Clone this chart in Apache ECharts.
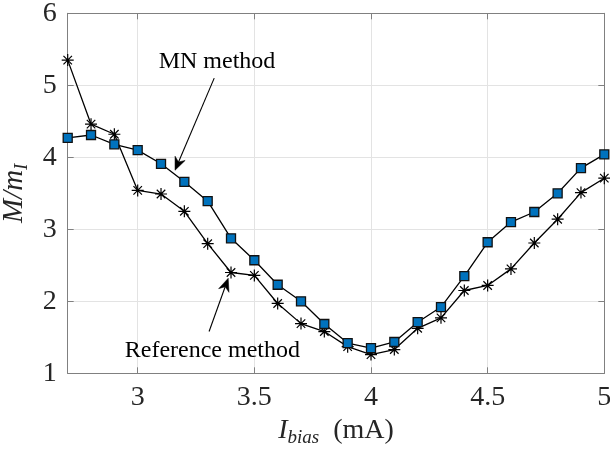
<!DOCTYPE html>
<html>
<head>
<meta charset="utf-8">
<script src="https://cdn.jsdelivr.net/npm/echarts@6/dist/echarts.min.js"></script>
<style>
  html, body { margin: 0; padding: 0; background: #fff; }
  #chart { width: 610px; height: 451px; }
</style>
</head>
<body>
<div id="chart"></div>
<script>
// Bias current (mA)
const biasCurrent = [2.7, 2.8, 2.9, 3.0, 3.1, 3.2, 3.3, 3.4, 3.5, 3.6, 3.7, 3.8,
                     3.9, 4.0, 4.1, 4.2, 4.3, 4.4, 4.5, 4.6, 4.7, 4.8, 4.9, 5.0];
// M/m_I estimated by the MN method
const mnMethod = [4.27, 4.31, 4.18, 4.10, 3.91, 3.66, 3.39, 2.875, 2.57, 2.23, 2.00, 1.685,
                  1.42, 1.35, 1.435, 1.71, 1.92, 2.35, 2.82, 3.10, 3.24, 3.50, 3.85, 4.04];
// M/m_I from the reference method
const referenceMethod = [5.35, 4.46, 4.32, 3.54, 3.49, 3.25, 2.80, 2.40, 2.36, 1.97, 1.69, 1.58,
                         1.37, 1.26, 1.33, 1.625, 1.77, 2.15, 2.22, 2.45, 2.81, 3.14, 3.51, 3.71];
const xTicks = [3, 3.5, 4, 4.5, 5];
const yTicks = [1, 2, 3, 4, 5, 6];

// Annotation anchors in data units: text centre, arrow tail, arrow tip
const mnNote = { text: 'MN method', at: [3.34, 5.33], from: [3.328, 5.10], to: [3.16, 3.82] };
const refNote = { text: 'Reference method', at: [3.32, 1.32], from: [3.306, 1.58], to: [3.388, 2.32] };

const SERIF = '"Liberation Serif", "Times New Roman", serif';
const AXIS_GREY = '#808080';
const TEXT_DARK = '#262626';
const ASTERISK = 'path://M0,-10L0,10M-10,0L10,0M-7.07,-7.07L7.07,7.07M-7.07,7.07L7.07,-7.07';

const pairs = (xs, ys) => xs.map((x, i) => [x, ys[i]]);

const chart = echarts.init(document.getElementById('chart'), null, { renderer: 'canvas' });

const tickStyle = { show: true, inside: true, length: 6, lineStyle: { color: AXIS_GREY } };
const baseX = {
  type: 'value', min: 2.7, max: 5,
  axisLine: { show: true, lineStyle: { color: AXIS_GREY, width: 1 } }
};
const baseY = {
  type: 'value', min: yTicks[0], max: yTicks[yTicks.length - 1], interval: 1,
  axisLine: { show: true, lineStyle: { color: AXIS_GREY, width: 1 } },
  axisTick: tickStyle
};

chart.setOption({
  animation: false,
  backgroundColor: '#ffffff',
  grid: {
    left: 67.7, right: 5.7, top: 13.3, bottom: 77.7,
    containLabel: false,
    outerBoundsMode: 'none'
  },
  xAxis: [
    Object.assign({}, baseX, {
      position: 'bottom',
      axisTick: Object.assign({ customValues: xTicks }, tickStyle),
      axisLabel: { customValues: xTicks, color: TEXT_DARK, fontFamily: SERIF, fontSize: 28, margin: 10 },
      splitLine: { show: true, lineStyle: { color: '#e3e3e3', width: 1 } },
      name: '{i|I}{s|bias}{n|  (mA)}',
      nameLocation: 'middle',
      nameGap: 33,
      nameTextStyle: {
        color: TEXT_DARK,
        rich: {
          i: { fontFamily: SERIF, fontStyle: 'italic', fontSize: 28, lineHeight: 34, color: TEXT_DARK },
          s: { fontFamily: SERIF, fontStyle: 'italic', fontSize: 19, lineHeight: 19, verticalAlign: 'bottom', color: TEXT_DARK },
          n: { fontFamily: SERIF, fontSize: 28, lineHeight: 34, color: TEXT_DARK }
        }
      }
    }),
    Object.assign({}, baseX, {
      position: 'top',
      axisTick: Object.assign({ customValues: xTicks }, tickStyle),
      axisLabel: { show: false },
      splitLine: { show: false }
    })
  ],
  yAxis: [
    Object.assign({}, baseY, {
      position: 'left',
      axisLabel: { color: TEXT_DARK, fontFamily: SERIF, fontSize: 28, margin: 11 },
      splitLine: { show: true, lineStyle: { color: '#e3e3e3', width: 1 } },
      name: '{i|M/m}{s|I}',
      nameLocation: 'middle',
      nameRotate: 90,
      nameGap: 33,
      nameTextStyle: {
        color: TEXT_DARK,
        rich: {
          i: { fontFamily: SERIF, fontStyle: 'italic', fontSize: 29, lineHeight: 34, color: TEXT_DARK },
          s: { fontFamily: SERIF, fontStyle: 'italic', fontSize: 19, lineHeight: 19, verticalAlign: 'bottom', color: TEXT_DARK }
        }
      }
    }),
    Object.assign({}, baseY, {
      position: 'right',
      axisLabel: { show: false },
      splitLine: { show: false }
    })
  ],
  series: [
    {
      name: 'MN method',
      type: 'line',
      data: pairs(biasCurrent, mnMethod),
      xAxisIndex: 0, yAxisIndex: 0,
      symbol: 'rect', symbolSize: 9,
      showAllSymbol: true,
      lineStyle: { color: '#000', width: 1.3 },
      itemStyle: { color: '#0072BD', borderColor: '#111', borderWidth: 1.3 },
      z: 3
    },
    {
      name: 'Reference method',
      type: 'line',
      data: pairs(biasCurrent, referenceMethod),
      xAxisIndex: 0, yAxisIndex: 0,
      symbol: ASTERISK, symbolSize: 12,
      showAllSymbol: true,
      lineStyle: { color: '#000', width: 1.3 },
      itemStyle: { color: '#000', borderColor: '#000', borderWidth: 1.2 },
      z: 2
    }
  ]
});

// Captions and arrows, positioned from data-space anchors
function noteText(note) {
  const p = chart.convertToPixel({ gridIndex: 0 }, note.at);
  return {
    type: 'text',
    x: p[0], y: p[1],
    silent: true,
    z: 10,
    style: {
      text: note.text,
      fill: '#000',
      font: '24px ' + SERIF,
      align: 'center',
      verticalAlign: 'middle'
    }
  };
}
function noteArrow(note) {
  const a = chart.convertToPixel({ gridIndex: 0 }, note.from);
  const b = chart.convertToPixel({ gridIndex: 0 }, note.to);
  const dx = b[0] - a[0], dy = b[1] - a[1];
  const len = Math.hypot(dx, dy);
  const ux = dx / len, uy = dy / len;      // direction of travel
  const nx = -uy, ny = ux;                 // normal
  const headLen = 13, headHalf = 5.5, notch = 9;
  const base = [b[0] - ux * headLen, b[1] - uy * headLen];
  const back = [b[0] - ux * notch, b[1] - uy * notch];
  return [
    {
      type: 'line', silent: true, z: 10,
      shape: { x1: a[0], y1: a[1], x2: back[0], y2: back[1] },
      style: { stroke: '#000', lineWidth: 1.1 }
    },
    {
      type: 'polygon', silent: true, z: 10,
      shape: {
        points: [
          b,
          [base[0] + nx * headHalf, base[1] + ny * headHalf],
          back,
          [base[0] - nx * headHalf, base[1] - ny * headHalf]
        ]
      },
      style: { fill: '#000', stroke: '#000', lineWidth: 0.5 }
    }
  ];
}
chart.setOption({
  graphic: [noteText(mnNote), noteText(refNote)]
    .concat(noteArrow(mnNote), noteArrow(refNote))
});
</script>
</body>
</html>
